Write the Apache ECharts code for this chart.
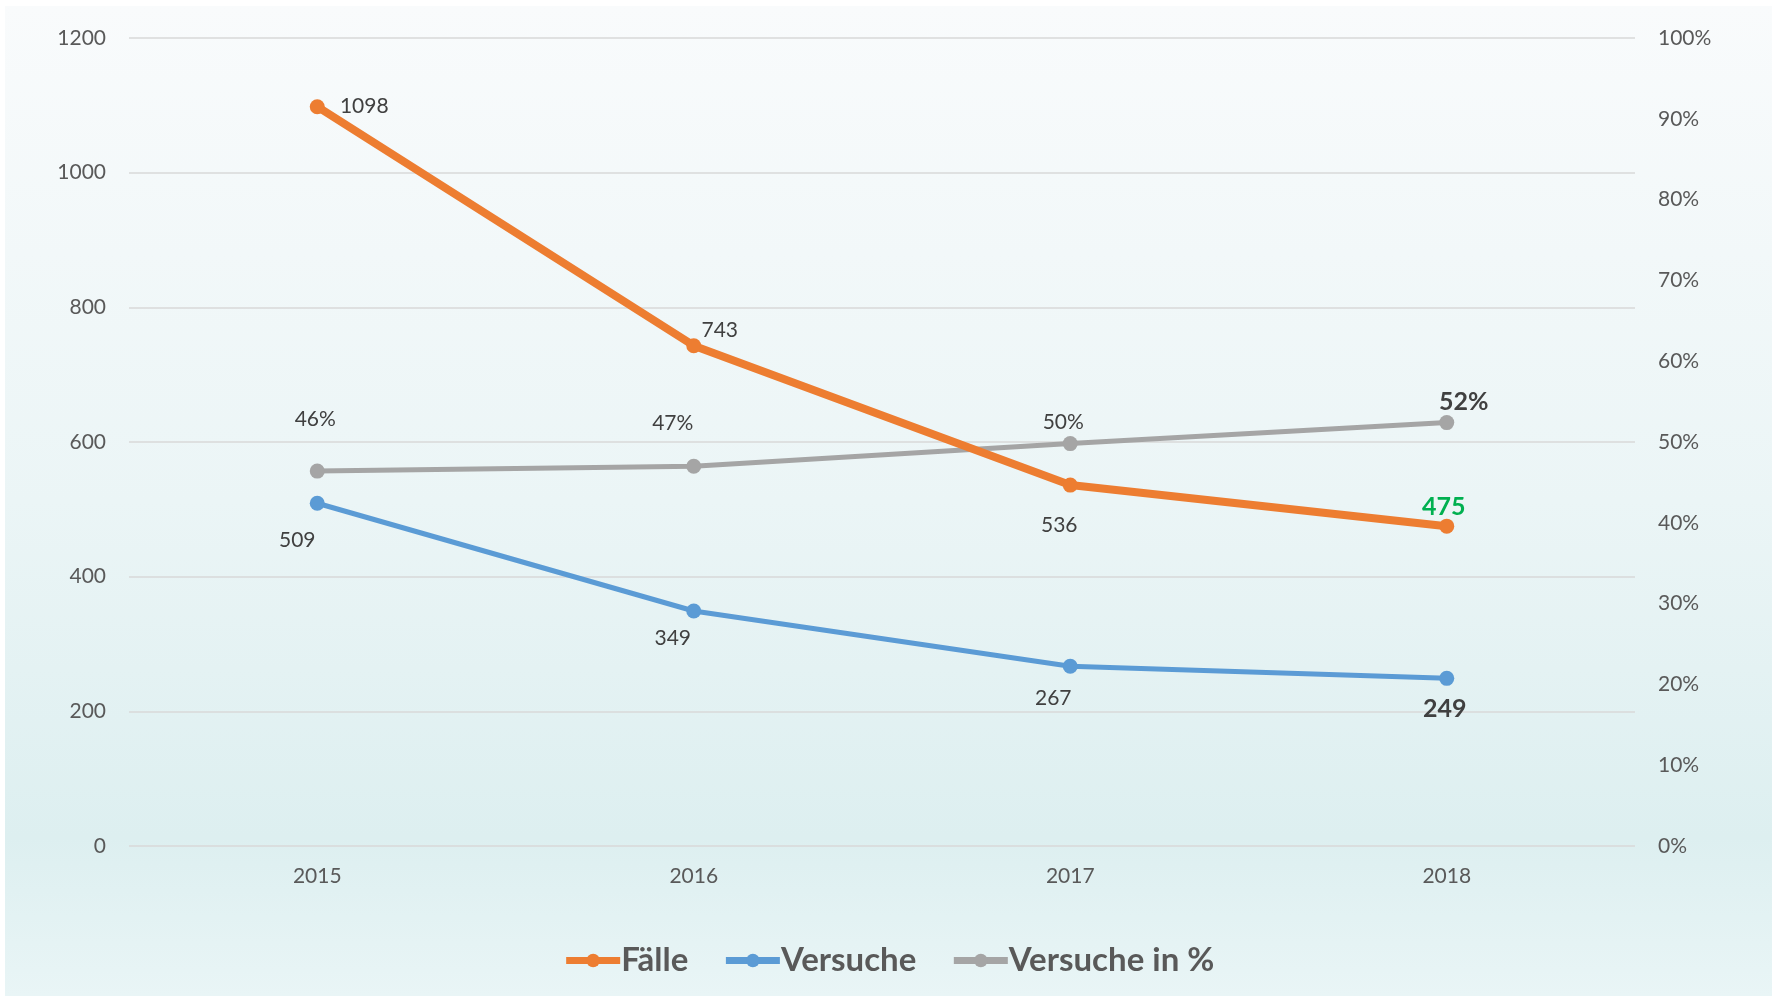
<!DOCTYPE html>
<html>
<head>
<meta charset="utf-8">
<script src="https://cdn.jsdelivr.net/npm/echarts@6/dist/echarts.min.js"></script>
<style>
html,body{margin:0;padding:0;background:#ffffff;}
#chart{width:1777px;height:997px;}
</style>
</head>
<body>
<div id="chart"></div>
<script>
// ---- data ----
var years = ['2015', '2016', '2017', '2018'];
var faelle = [1098, 743, 536, 475];
var versuche = [509, 349, 267, 249];
var versucheProzent = [46.4, 47.0, 49.8, 52.4];
var seriesNames = ['Fälle', 'Versuche', 'Versuche in %'];

// ---- label placement (style, not data) ----
var faelleOff = [[47, 0], [26, -15], [-11, 40], [-3, -19]];
var versucheOff = [[-20, 37], [-21, 27], [-17, 32], [-2, 31]];
var prozentOff = [[-2, -52], [-21, -43], [-7, -21], [17, -21]];

var FONT = 'Lato, "Open Sans", sans-serif';
var normalLbl = {fontSize: 21, color: '#404040', fontFamily: FONT};

function buildData(values, offs, lastStyle, fmt) {
  return values.map(function (v, i) {
    var lbl = Object.assign({
      show: true, position: 'inside', offset: offs[i],
      align: 'center', verticalAlign: 'middle',
      formatter: fmt
    }, normalLbl);
    if (i === values.length - 1 && lastStyle) Object.assign(lbl, lastStyle);
    return {value: v, label: lbl};
  });
}

var chart = echarts.init(document.getElementById('chart'));
var option = {
  animation: false,
  graphic: [{
    type: 'rect', z: -10, silent: true,
    shape: {x: 5, y: 6, width: 1767, height: 990},
    style: {
      fill: new echarts.graphic.LinearGradient(0, 0, 0, 1, [
        {offset: 0, color: '#f9fbfc'},
        {offset: 0.5, color: '#ebf5f6'},
        {offset: 0.84, color: '#ddeff0'},
        {offset: 1, color: '#e9f5f6'}
      ])
    }
  }],
  grid: {left: 129, right: 142, top: 38, bottom: 151},
  legend: {
    bottom: 15, left: 'center',
    itemWidth: 54, itemHeight: 17, itemGap: 34,
    lineStyle: {width: 7},
    textStyle: {fontSize: 33, fontWeight: 'bold', color: '#595959', fontFamily: FONT, padding: [0, 0, 0, -4]},
    data: seriesNames
  },
  xAxis: {
    type: 'category', data: years, boundaryGap: true,
    axisLine: {show: false}, axisTick: {show: false},
    axisLabel: {fontSize: 21, color: '#595959', fontFamily: FONT, margin: 20}
  },
  yAxis: [{
    type: 'value', min: 0, max: 1200, interval: 200,
    axisLine: {show: false}, axisTick: {show: false},
    axisLabel: {fontSize: 21, color: '#595959', fontFamily: FONT, margin: 23,
      formatter: function (v) { return String(v); }},
    splitLine: {lineStyle: {color: '#d9d9d9', width: 1.5}}
  }, {
    type: 'value', min: 0, max: 1, interval: 0.1, position: 'right',
    axisLine: {show: false}, axisTick: {show: false}, splitLine: {show: false},
    axisLabel: {fontSize: 21, color: '#595959', fontFamily: FONT, margin: 23,
      formatter: function (v) { return Math.round(v * 100) + '%'; }}
  }],
  series: [{
    name: seriesNames[0], type: 'line', yAxisIndex: 0, z: 3,
    symbol: 'circle', symbolSize: 15,
    itemStyle: {color: '#ed7d31'}, lineStyle: {color: '#ed7d31', width: 8},
    data: buildData(faelle, faelleOff, {fontSize: 25, fontWeight: 'bold', color: '#00b050'})
  }, {
    name: seriesNames[1], type: 'line', yAxisIndex: 0, z: 2,
    symbol: 'circle', symbolSize: 15,
    itemStyle: {color: '#5b9bd5'}, lineStyle: {color: '#5b9bd5', width: 5},
    data: buildData(versuche, versucheOff, {fontSize: 25, fontWeight: 'bold', color: '#404040'})
  }, {
    name: seriesNames[2], type: 'line', yAxisIndex: 1, z: 2,
    symbol: 'circle', symbolSize: 15,
    itemStyle: {color: '#a5a5a5'}, lineStyle: {color: '#a5a5a5', width: 5},
    data: buildData(versucheProzent.map(function (p) { return p / 100; }), prozentOff,
      {fontSize: 25, fontWeight: 'bold', color: '#404040'},
      function (p) { return Math.round(p.value * 100) + '%'; })
  }]
};
chart.setOption(option);
</script>
</body>
</html>
